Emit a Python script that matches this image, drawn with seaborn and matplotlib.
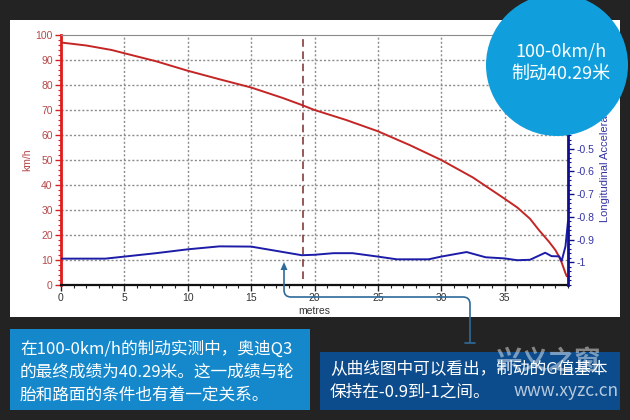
import matplotlib
matplotlib.use("Agg")
import matplotlib.pyplot as plt
import matplotlib.patches as mpatches
from matplotlib.path import Path
from matplotlib.ticker import MultipleLocator, FuncFormatter
import numpy as np
import seaborn as sns

# speed trace (km/h) against distance (metres)
dist_speed = [0, 2, 4, 5, 7.5, 10, 12.5, 15, 17.5, 19, 20, 22.5, 25, 27.5, 30,
              32.5, 35, 36, 37, 37.7, 38.5, 39, 39.3, 39.5, 39.8, 39.9]
speed = [97, 95.8, 94, 92.7, 89.5, 85.7, 82.3, 79, 74.8, 72, 70, 66, 61.5, 56, 50,
         43, 34.5, 31, 26.5, 22, 17.3, 14, 11.3, 9, 4.7, 3.5]

# longitudinal acceleration (g) against distance
dist_acc = [0, 3.5, 5, 7.5, 10, 12.5, 15, 17, 19, 20, 21.5, 23, 25, 26.5, 29, 30,
            32, 33.5, 35, 36, 37, 38.2, 38.7, 39.3, 39.5, 39.8, 40]
accel = [-0.984, -0.984, -0.975, -0.96, -0.943, -0.93, -0.931, -0.95, -0.969, -0.967,
         -0.96, -0.96, -0.975, -0.987, -0.987, -0.975, -0.955, -0.978, -0.983, -0.991,
         -0.989, -0.958, -0.973, -0.974, -0.994, -0.93, -0.82]

marker_dist = 19.1

circle_lines = ["100-0km/h", "制动40.29米"]
left_note = ["在100-0km/h的制动实测中，奥迪Q3",
             "的最终成绩为40.29米。这一成绩与轮",
             "胎和路面的条件也有着一定关系。"]
right_note = ["从曲线图中可以看出，制动的G值基本",
              "保持在-0.9到-1之间。"]

sns.set_theme(style="white")
plt.rcParams['font.family'] = ['Liberation Sans', 'DejaVu Sans']
CJK = ['Noto Sans CJK SC', 'DejaVu Sans']

W, H = 630, 420
def fx(x):
    return x / W
def fy(y):
    return 1 - y / H

fig = plt.figure(figsize=(6.3, 4.2), dpi=100, facecolor='#232323')

# white chart panel
fig.patches.append(mpatches.Rectangle((fx(10), fy(317)), 610 / W, 297 / H,
                                      transform=fig.transFigure, facecolor='white',
                                      edgecolor='none', zorder=-1))

ax = fig.add_axes([fx(61), fy(285), 507 / W, 250 / H])
ax2 = ax.twinx()

sns.lineplot(x=dist_speed, y=speed, ax=ax, color='#c42525', lw=1.4, zorder=3)
sns.lineplot(x=dist_acc, y=accel, ax=ax2, color='#1c1ca8', lw=1.4)

ax.set_xlim(0, 40)
ax.set_ylim(0, 100)
ax2.set_ylim(-1.1, 0)

ax.set_xticks(np.arange(0, 36, 5))
ax.set_yticks(np.arange(0, 101, 10))
ax.xaxis.set_minor_locator(MultipleLocator(1))
ax.yaxis.set_minor_locator(MultipleLocator(2))
ax2.set_yticks(np.arange(-1.0, -0.45, 0.1))
ax2.yaxis.set_minor_locator(MultipleLocator(0.02))
ax2.yaxis.set_major_formatter(FuncFormatter(lambda v, p: f"{round(v, 2):g}"))

# dotted grid at the major ticks (line collections)
ax.vlines(ax.get_xticks()[1:], 0, 100, colors='#8c8c8c',
          linestyles=(0, (1.5, 1.5)), lw=1.0, zorder=1.5)
ax.hlines(ax.get_yticks()[1:-1], 0, 40, colors='#8c8c8c',
          linestyles=(0, (1.5, 1.5)), lw=1.0, zorder=1.5)

ax.vlines(marker_dist, 2.5, 100, colors='#7b2b2b', linestyles=(0, (5, 3)), lw=1.1, zorder=2)

ax.tick_params(axis='x', which='major', direction='out', length=4, width=1,
               labelsize=7.5, labelcolor='#333333', color='#222222', pad=2, bottom=True)
ax.tick_params(axis='x', which='minor', direction='out', length=2, width=0.8,
               color='#222222', bottom=True)
ax.tick_params(axis='y', which='major', direction='out', length=4, width=1,
               labelsize=7.5, labelcolor='#b5484a', color='#d02020', pad=2, left=True)
ax.tick_params(axis='y', which='minor', direction='out', length=2, width=0.8,
               color='#d02020', left=True)
ax2.tick_params(axis='y', which='major', direction='out', length=4, width=1,
                labelsize=7.5, labelcolor='#3434a4', color='#10108a', pad=2, right=True)
ax2.tick_params(axis='y', which='minor', direction='out', length=2, width=0.8,
                color='#10108a', right=True)

ax.set_xlabel("metres", fontsize=7.5, color='#333333', labelpad=2)
ax.set_ylabel("km/h", fontsize=7.5, color='#b5484a', labelpad=2)
ax2.set_ylabel("Longitudinal Acceleration", fontsize=8, color='#3434a4', labelpad=4)

ax.spines['left'].set_color('#e01c1c')
ax.spines['left'].set_linewidth(2)
ax.spines['bottom'].set_color('#111111')
ax.spines['bottom'].set_linewidth(1.6)
ax.spines['top'].set_color('#8a8a8a')
ax.spines['top'].set_linewidth(0.8)
ax.spines['right'].set_visible(False)
for s in ['left', 'bottom', 'top']:
    ax2.spines[s].set_visible(False)
ax2.spines['right'].set_color('#10108a')
ax2.spines['right'].set_linewidth(2)

# connector from the note to the curve
conn_color = '#2f6b9a'
verts = [(470, 343), (470, 304), (470, 297), (463, 297), (291, 297),
         (284, 297), (284, 290), (284, 268)]
codes = [Path.MOVETO, Path.LINETO, Path.CURVE3, Path.CURVE3, Path.LINETO,
         Path.CURVE3, Path.CURVE3, Path.LINETO]
fig.patches.append(mpatches.PathPatch(Path([(fx(a), fy(b)) for a, b in verts], codes),
                                      transform=fig.transFigure, facecolor='none',
                                      edgecolor=conn_color, lw=1.2, zorder=4))
fig.patches.append(mpatches.Polygon([(fx(284), fy(262)), (fx(280.5), fy(270)),
                                     (fx(287.5), fy(270))], closed=True,
                                    transform=fig.transFigure, facecolor=conn_color,
                                    edgecolor='none', zorder=4))
fig.lines.append(plt.Line2D([fx(465), fx(475)], [fy(343), fy(343)],
                            transform=fig.transFigure, color=conn_color, lw=1.2, zorder=4))

# note boxes
fig.patches.append(mpatches.Rectangle((fx(10), fy(410)), 300 / W, 81 / H,
                                      transform=fig.transFigure, facecolor='#1588cc',
                                      edgecolor='none', zorder=3))
fig.patches.append(mpatches.Rectangle((fx(320), fy(410)), 300 / W, 58 / H,
                                      transform=fig.transFigure, facecolor='#0d4c8c',
                                      edgecolor='none', zorder=3))
for i, line in enumerate(left_note):
    fig.text(fx(20), fy(349 + 23 * i), line, family=CJK, fontsize=12, color='white',
             va='center', ha='left', zorder=6)
for i, line in enumerate(right_note):
    fig.text(fx(330), fy(370 + 22 * i), line, family=CJK, fontsize=12, color='white',
             va='center', ha='left', zorder=6)

# watermark
fig.text(fx(548), fy(362), "兴义之窗", family=CJK, fontsize=19, color='white',
         alpha=0.45, ha='center', va='center', zorder=7, fontweight='bold')
fig.text(fx(566), fy(391), "www.xyzc.cn", family=CJK, fontsize=12.5, color='white',
         alpha=0.7, ha='center', va='center', zorder=7)

# headline badge
fig.patches.append(mpatches.Ellipse((fx(557), fy(65)), 2 * 71 / W, 2 * 71 / H,
                                    transform=fig.transFigure, facecolor='#109fdc',
                                    edgecolor='none', zorder=5))
fig.text(fx(561), fy(52), circle_lines[0], family=CJK, fontsize=13, color='white',
         ha='center', va='center', zorder=6)
fig.text(fx(561), fy(74), circle_lines[1], family=CJK, fontsize=13, color='white',
         ha='center', va='center', zorder=6)

fig.savefig("out.png", dpi=100, facecolor=fig.get_facecolor())
